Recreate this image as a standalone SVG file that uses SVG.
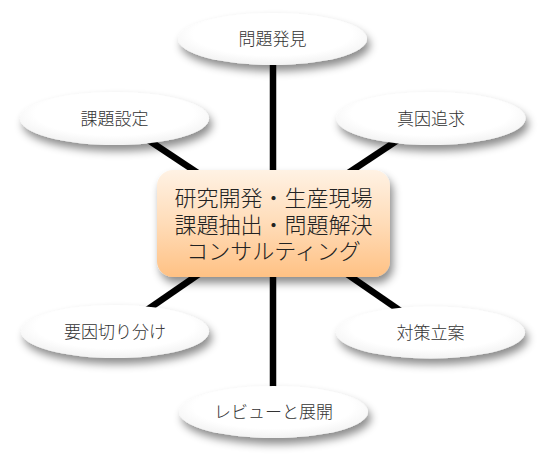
<svg xmlns="http://www.w3.org/2000/svg" width="546" height="467" viewBox="0 0 546 467">
<defs>
<filter id="sh" x="-20%" y="-30%" width="140%" height="170%">
<feDropShadow dx="3" dy="6" stdDeviation="4" flood-color="#000" flood-opacity="0.45"/>
</filter>
<linearGradient id="og" x1="0" y1="0" x2="0" y2="1">
<stop offset="0" stop-color="#fff2e4"/>
<stop offset="0.5" stop-color="#ffdcb8"/>
<stop offset="1" stop-color="#ffc184"/>
</linearGradient>
<radialGradient id="eg" cx="0.5" cy="0.4" r="0.6">
<stop offset="0.7" stop-color="#ffffff"/>
<stop offset="1" stop-color="#f2f2f2"/>
</radialGradient>
</defs>
<style>
.conn line{stroke:#000;stroke-width:6.5;stroke-linecap:butt}
.node ellipse{fill:url(#eg);filter:url(#sh)}
.node text{font-family:"Noto Sans CJK JP","Noto Sans",sans-serif;font-size:17px;font-weight:300;fill:#333;text-anchor:middle}
.center rect{fill:url(#og);filter:url(#sh)}
.center text{font-family:"Noto Sans CJK JP","Noto Sans",sans-serif;font-size:22px;font-weight:300;fill:#222;text-anchor:middle}
</style>
<rect width="546" height="467" fill="#fff"/>
<g id="connectors" class="conn">
<line x1="273" y1="223" x2="273" y2="39"/>
<line x1="273" y1="223" x2="273" y2="412"/>
<line x1="273" y1="223" x2="115" y2="118"/>
<line x1="273" y1="223" x2="431" y2="118"/>
<line x1="273" y1="223" x2="115" y2="332"/>
<line x1="273" y1="223" x2="431" y2="332"/>
</g>
<g id="n1" class="node"><ellipse cx="272.5" cy="39" rx="94.5" ry="26"/><text x="272.5" y="45">問題発見</text></g>
<g id="n2" class="node"><ellipse cx="114.5" cy="118.5" rx="94.5" ry="26.5"/><text x="114.5" y="124.5">課題設定</text></g>
<g id="n3" class="node"><ellipse cx="431" cy="118.5" rx="94.5" ry="26.5"/><text x="431" y="124.5">真因追求</text></g>
<g id="n4" class="node"><ellipse cx="115" cy="331.5" rx="94" ry="26.5"/><text x="115" y="337.5">要因切り分け</text></g>
<g id="n5" class="node"><ellipse cx="430.5" cy="332.5" rx="94.5" ry="26"/><text x="430.5" y="338.5">対策立案</text></g>
<g id="n6" class="node"><ellipse cx="273.5" cy="412" rx="94.5" ry="26"/><text x="273.5" y="418">レビューと展開</text></g>
<g id="center" class="center">
<rect x="157" y="170" width="233" height="107" rx="16" ry="16"/>
<text x="273.5" y="206"><tspan x="273.5" y="206">研究開発・生産現場</tspan><tspan x="273.5" y="233">課題抽出・問題解決</tspan><tspan x="273.5" y="259">コンサルティング</tspan></text>
</g>
</svg>
